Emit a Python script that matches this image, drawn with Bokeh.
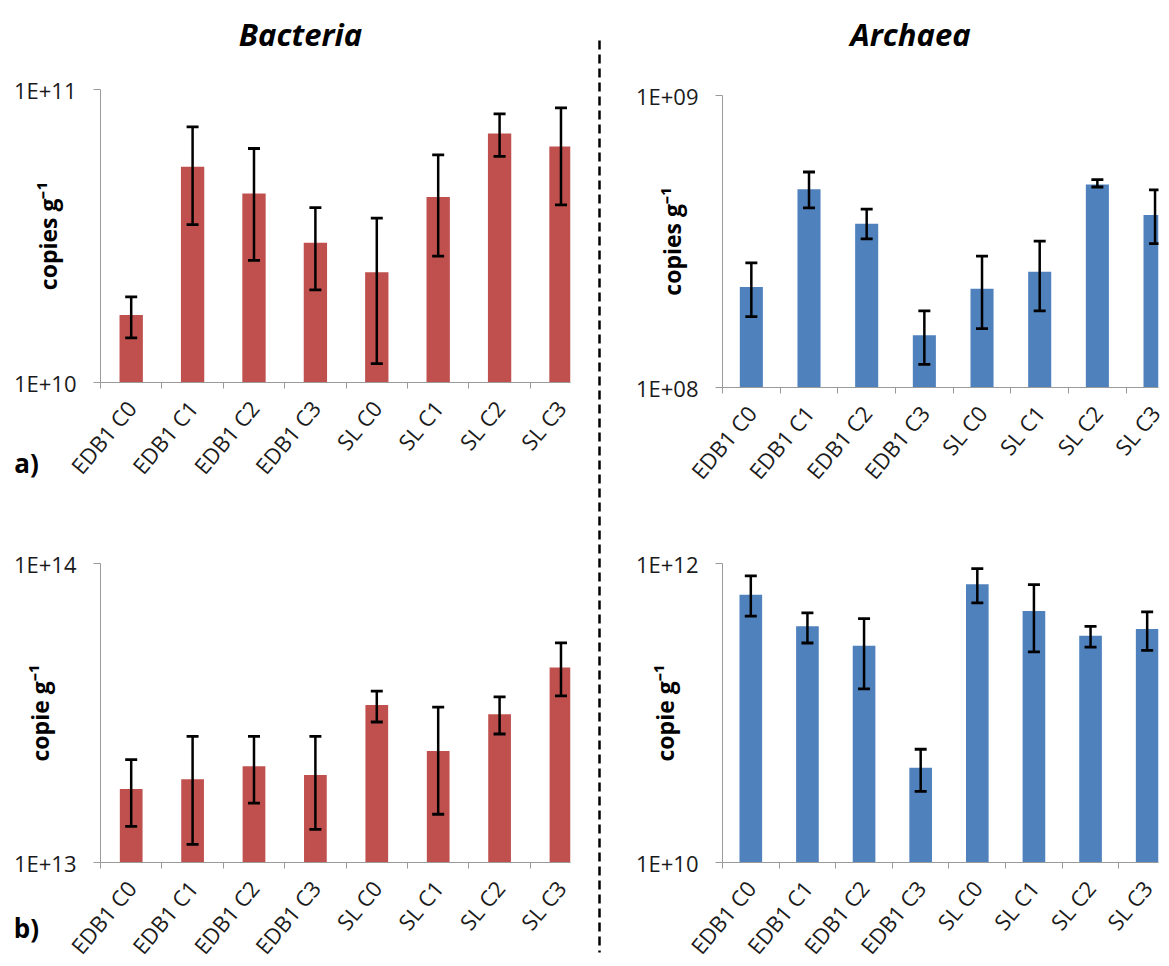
import math
from bokeh.plotting import figure
from bokeh.models import (FixedTicker, CustomJSTickFormatter, Range1d,
                          ColumnDataSource, GridBox)
from bokeh.layouts import column
from bokeh.core.properties import value
from bokeh.embed import file_html
from bokeh.resources import INLINE

# ---------------- data ----------------
categories = ["EDB1 C0", "EDB1 C1", "EDB1 C2", "EDB1 C3", "SL C0", "SL C1", "SL C2", "SL C3"]

bact_a = [1.70e10, 5.45e10, 4.42e10, 3.00e10, 2.38e10, 4.30e10, 7.08e10, 6.39e10]
bact_a_hi = [1.96e10, 7.46e10, 6.29e10, 3.95e10, 3.64e10, 5.98e10, 8.26e10, 8.65e10]
bact_a_lo = [1.42e10, 3.46e10, 2.61e10, 2.07e10, 1.16e10, 2.70e10, 5.91e10, 4.04e10]

arch_a = [2.21e8, 4.77e8, 3.64e8, 1.51e8, 2.18e8, 2.49e8, 4.96e8, 3.90e8]
arch_a_hi = [2.67e8, 5.47e8, 4.08e8, 1.83e8, 2.82e8, 3.17e8, 5.15e8, 4.75e8]
arch_a_lo = [1.75e8, 4.12e8, 3.23e8, 1.20e8, 1.59e8, 1.83e8, 4.86e8, 3.11e8]

bact_b = [1.76e13, 1.90e13, 2.10e13, 1.96e13, 3.36e13, 2.36e13, 3.13e13, 4.49e13]
bact_b_hi = [2.21e13, 2.64e13, 2.64e13, 2.64e13, 3.74e13, 3.31e13, 3.58e13, 5.43e13]
bact_b_lo = [1.32e13, 1.15e13, 1.58e13, 1.29e13, 2.95e13, 1.45e13, 2.69e13, 3.61e13]

arch_b = [6.19e11, 3.80e11, 2.82e11, 4.31e10, 7.27e11, 4.82e11, 3.29e11, 3.65e11]
arch_b_hi = [8.27e11, 4.67e11, 4.28e11, 5.72e10, 9.25e11, 7.23e11, 3.80e11, 4.74e11]
arch_b_lo = [4.44e11, 2.94e11, 1.45e11, 2.99e10, 5.45e11, 2.56e11, 2.76e11, 2.62e11]

column_titles = ["Bacteria", "Archaea"]
panel_letters = ["a)", "b)"]

RED = "#C0504D"
BLUE = "#4F81BD"
FONT = "Open Sans"
AXIS_GRAY = "#9a9a9a"


def panel(width, height, bl, br, bt, bb, xmax, ymin, ymax, vals, hi, lo,
          color, bar_w, ylabel, ylabel_standoff):
    p = figure(width=width, height=height, x_range=Range1d(0, xmax),
               y_range=Range1d(ymin, ymax), y_axis_type="log",
               output_backend="svg", toolbar_location=None,
               min_border_left=bl, min_border_right=br,
               min_border_top=bt, min_border_bottom=bb)
    p.grid.visible = False
    p.outline_line_color = None
    p.background_fill_color = "white"
    p.border_fill_color = "white"

    xs = [i + 0.5 for i in range(len(categories))]
    src = ColumnDataSource(dict(x=xs, top=vals, hi=hi, lo=lo,
                                bottom=[ymin] * len(xs)))
    p.vbar(x="x", top="top", bottom="bottom", width=bar_w, source=src,
           fill_color=color, line_color=None)
    p.segment(x0="x", y0="lo", x1="x", y1="hi", source=src,
              line_color="black", line_width=2.5)
    p.scatter(x="x", y="hi", marker="dash", size=12, source=src,
              line_color="black", line_width=2.8)
    p.scatter(x="x", y="lo", marker="dash", size=12, source=src,
              line_color="black", line_width=2.8)

    # y axis (log)
    ya = p.yaxis[0]
    ya.ticker = FixedTicker(ticks=[ymin, ymax])
    ya.formatter = CustomJSTickFormatter(
        code="return '1E+' + String(Math.round(Math.log10(tick))).padStart(2, '0');")
    ya.major_tick_out = 7
    ya.major_tick_in = 0
    ya.minor_tick_out = 0
    ya.minor_tick_in = 0
    ya.axis_line_color = AXIS_GRAY
    ya.major_tick_line_color = AXIS_GRAY
    ya.major_label_text_font = FONT
    ya.major_label_text_font_size = "22px"
    ya.major_label_text_color = "#1a1a1a"
    ya.major_label_standoff = 17
    ya.axis_label = ylabel
    ya.axis_label_text_font = FONT
    ya.axis_label_text_font_size = "23px"
    ya.axis_label_text_font_style = "bold"
    ya.axis_label_text_color = "black"
    ya.axis_label_standoff = ylabel_standoff

    # x axis (categories at centres, ticks between)
    xa = p.xaxis[0]
    xa.ticker = FixedTicker(ticks=xs, minor_ticks=list(range(0, len(categories) + 1)))
    xa.formatter = CustomJSTickFormatter(args=dict(labels=categories),
                                         code="return labels[Math.floor(tick)];")
    xa.major_tick_out = 0
    xa.major_tick_in = 0
    xa.minor_tick_out = 6
    xa.minor_tick_in = 0
    xa.axis_line_color = AXIS_GRAY
    xa.minor_tick_line_color = AXIS_GRAY
    xa.major_label_orientation = math.radians(50)
    xa.major_label_text_font = FONT
    xa.major_label_text_font_size = "22px"
    xa.major_label_text_color = "#1a1a1a"
    xa.major_label_standoff = 15
    return p


# Panel a) Bacteria   (frame: x 100-570, y 89-382)
pa = panel(602, 495, 100, 32, 89, 113, 7.655, 1e10, 1e11,
           bact_a, bact_a_hi, bact_a_lo, RED, 0.38, "copies g\u207b\u00b9", -53)
# Panel b) Bacteria   (frame: x 100-570, y 563-862)
pb = panel(602, 481, 100, 32, 68, 114, 7.655, 1e13, 1e14,
           bact_b, bact_b_hi, bact_b_lo, RED, 0.37, "copie g\u207b\u00b9", -45)
# Panel a) Archaea    (frame: x 711-1169, y 95-387)
pc = panel(567, 500, 109, 0, 95, 113, 7.56, 1e8, 1e9,
           arch_a, arch_a_hi, arch_a_lo, BLUE, 0.40, "copies g\u207b\u00b9", -55)
# Panel b) Archaea    (frame: x 722-1158, y 563-862)
pd = panel(567, 476, 120, 11, 63, 114, 7.70, 1e10, 1e12,
           arch_b, arch_b_hi, arch_b_lo, BLUE, 0.40, "copie g\u207b\u00b9", -48)

# transparent overlay for column titles, panel letters and the dashed separator
ov = figure(width=1169, height=966, x_range=Range1d(0, 1169), y_range=Range1d(966, 0),
            output_backend="svg", toolbar_location=None,
            x_axis_location=None, y_axis_location=None,
            min_border_left=0, min_border_right=0, min_border_top=0, min_border_bottom=0)
ov.grid.visible = False
ov.outline_line_color = None
ov.background_fill_color = None
ov.border_fill_color = None
ov.text(x=[300, 910], y=[33, 33], text=column_titles, text_font=value(FONT),
        text_font_size="31px", text_font_style="bold italic", text_color="black",
        text_align="center", text_baseline="middle")
ov.text(x=[26, 26], y=[462, 927], text=panel_letters, text_font=value(FONT),
        text_font_size="26px", text_font_style="bold", text_color="black",
        text_align="center", text_baseline="middle")
ov.segment(x0=[599], y0=[40], x1=[599], y1=[952], line_color="black",
           line_width=2.5, line_dash="9 5")

layout = GridBox(children=[(column(pa, pb), 0, 0), (column(pc, pd), 0, 1),
                           (ov, 0, 0, 1, 2)])

with open("out.html", "w") as f:
    f.write(file_html(layout, INLINE))
